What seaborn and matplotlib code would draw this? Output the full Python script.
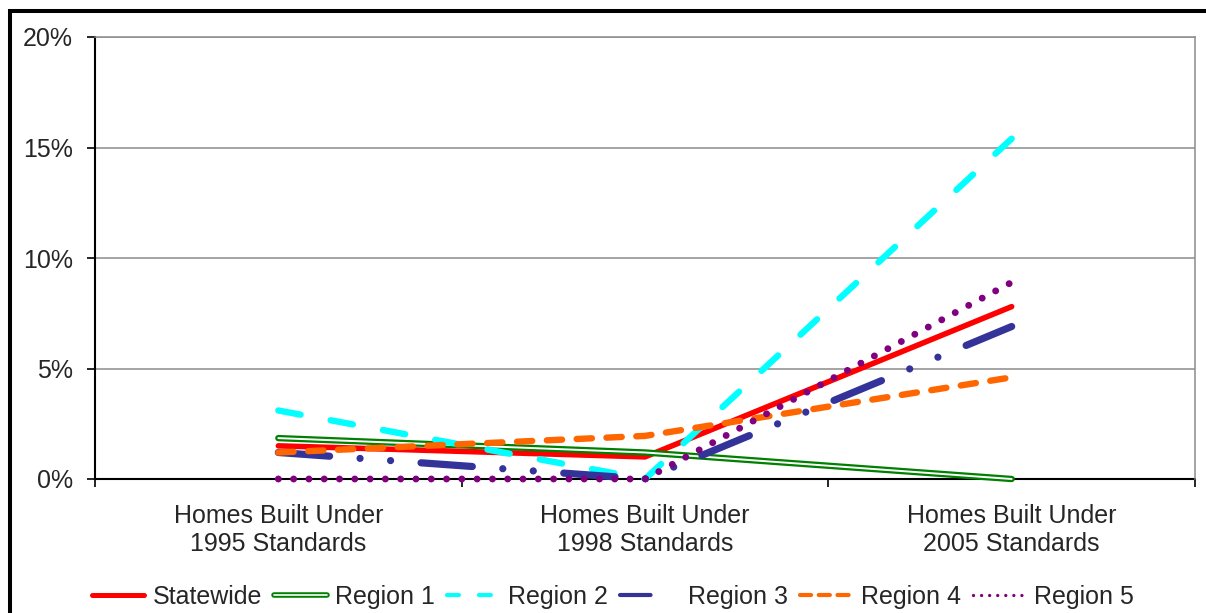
import matplotlib
matplotlib.use("Agg")
import matplotlib.pyplot as plt
import matplotlib.patheffects as pe
from matplotlib.patches import Rectangle
from matplotlib.ticker import FixedLocator, FuncFormatter
import seaborn as sns
import pandas as pd

# Share of homes (%) by building-standard vintage
categories = ["Homes Built Under\n1995 Standards",
              "Homes Built Under\n1998 Standards",
              "Homes Built Under\n2005 Standards"]
statewide = [1.5, 1.0, 7.8]
region_1 = [1.85, 1.2, 0.0]
region_2 = [3.1, 0.0, 15.4]
region_3 = [1.2, 0.0, 6.9]
region_4 = [1.2, 1.95, 4.6]
region_5 = [0.0, 0.0, 8.9]

series_names = ["Statewide", "Region 1", "Region 2", " Region 3", "Region 4", "Region 5"]
series_values = [statewide, region_1, region_2, region_3, region_4, region_5]

sns.set_theme(style="white")
plt.rcParams["font.family"] = ["Liberation Sans", "DejaVu Sans"]
plt.rcParams["lines.scale_dashes"] = False

FS = 18

fig = plt.figure(figsize=(12.06, 6.13), dpi=100)
ax = fig.add_axes([95 / 1206, 1 - 479 / 613, 1100 / 1206, 442 / 613])

frames = []
for name, vals in zip(series_names, series_values):
    frames.append(pd.DataFrame({"pos": range(len(categories)), "pct": vals, "series": name}))
df = pd.concat(frames, ignore_index=True)

# plot styles (line width, dash pattern) and smaller versions for legend keys
styles = {
    "Statewide": dict(color="#FF0000", lw=4.0, dashes=None, key_lw=3.6, key_dashes=None),
    "Region 1": dict(color="#FFFFFF", lw=1.4, dashes=None, key_lw=1.2, key_dashes=None),
    "Region 2": dict(color="#00FFFF", lw=4.6, dashes=(16.3, 22), key_lw=3.0, key_dashes=(8.6, 14.4)),
    " Region 3": dict(color="#333399", lw=5.2, dashes=(37, 22, 0.01, 22, 0.01, 22),
                      key_lw=3.0, key_dashes=(22, 30)),
    "Region 4": dict(color="#FF6600", lw=4.6, dashes=(11, 10.5), key_lw=3.0, key_dashes=(8, 5.5)),
    "Region 5": dict(color="#800080", lw=5.0, dashes=(0.01, 11), key_lw=2.4, key_dashes=(0.01, 5.8)),
}

for name in series_names:
    sub = df[df["series"] == name]
    st = styles[name]
    sns.lineplot(data=sub, x="pos", y="pct", ax=ax, color=st["color"],
                 linewidth=st["lw"], label=name, legend=False, zorder=3)
    line = ax.lines[-1]
    line.set_clip_on(False)
    line.set_solid_capstyle("round")
    line.set_dash_capstyle("round")
    if st["dashes"] is not None:
        line.set_dashes(st["dashes"])
    if name == "Region 1":
        line.set_path_effects([pe.Stroke(linewidth=4.6, foreground="#008000"), pe.Normal()])

ax.set_xlim(-0.5, len(categories) - 0.5)
ax.set_ylim(0, 20)
ax.set_xlabel("")
ax.set_ylabel("")

# gridlines and frame of the plotting area
ax.set_yticks([0, 5, 10, 15, 20])
ax.yaxis.set_major_formatter(FuncFormatter(lambda v, p: f"{v:.0f}%"))
for y in [5, 10, 15, 20]:
    ax.axhline(y, color="#8C8C8C", lw=1.1, zorder=1)
for side in ["top", "right"]:
    ax.spines[side].set_color("#8C8C8C")
    ax.spines[side].set_linewidth(1.1)
for side in ["left", "bottom"]:
    ax.spines[side].set_color("black")
    ax.spines[side].set_linewidth(1.5)
ax.spines["bottom"].set_zorder(2)

ax.xaxis.set_major_locator(FixedLocator([-0.5, 0.5, 1.5, 2.5]))
ax.xaxis.set_major_formatter(FuncFormatter(lambda v, p: ""))
ax.xaxis.set_minor_locator(FixedLocator(list(range(len(categories)))))
ax.set_xticklabels(categories, minor=True)
ax.tick_params(axis="x", which="major", direction="out", length=6, width=1.2, color="black", bottom=True)
ax.tick_params(axis="x", which="minor", length=0, pad=18, labelsize=FS)
ax.tick_params(axis="y", direction="out", length=6, width=1.2, color="black", left=True, pad=10, labelsize=FS)
for t in ax.get_xticklabels(minor=True):
    t.set_linespacing(1.2)

handles, labels = ax.get_legend_handles_labels()
leg = fig.legend(handles, labels, loc="center", bbox_to_anchor=(0.508, 1 - 597 / 613), ncol=6,
                 frameon=False, fontsize=FS, handlelength=2.1, handletextpad=0.32,
                 columnspacing=0.5, borderaxespad=0)
for key, name in zip(leg.get_lines(), labels):
    st = styles[name]
    key.set_linewidth(st["key_lw"])
    if st["key_dashes"] is not None:
        key.set_dashes(st["key_dashes"])
    if name == "Region 1":
        key.set_path_effects([pe.Stroke(linewidth=4.0, foreground="#008000"), pe.Normal()])

# outer chart border
fig.patches.append(Rectangle((10 / 1206, -0.2), 1.5, (613 - 11) / 613 + 0.2,
                             transform=fig.transFigure, fill=False, edgecolor="black",
                             linewidth=2.9, zorder=10))

fig.savefig("out.png", dpi=100)
